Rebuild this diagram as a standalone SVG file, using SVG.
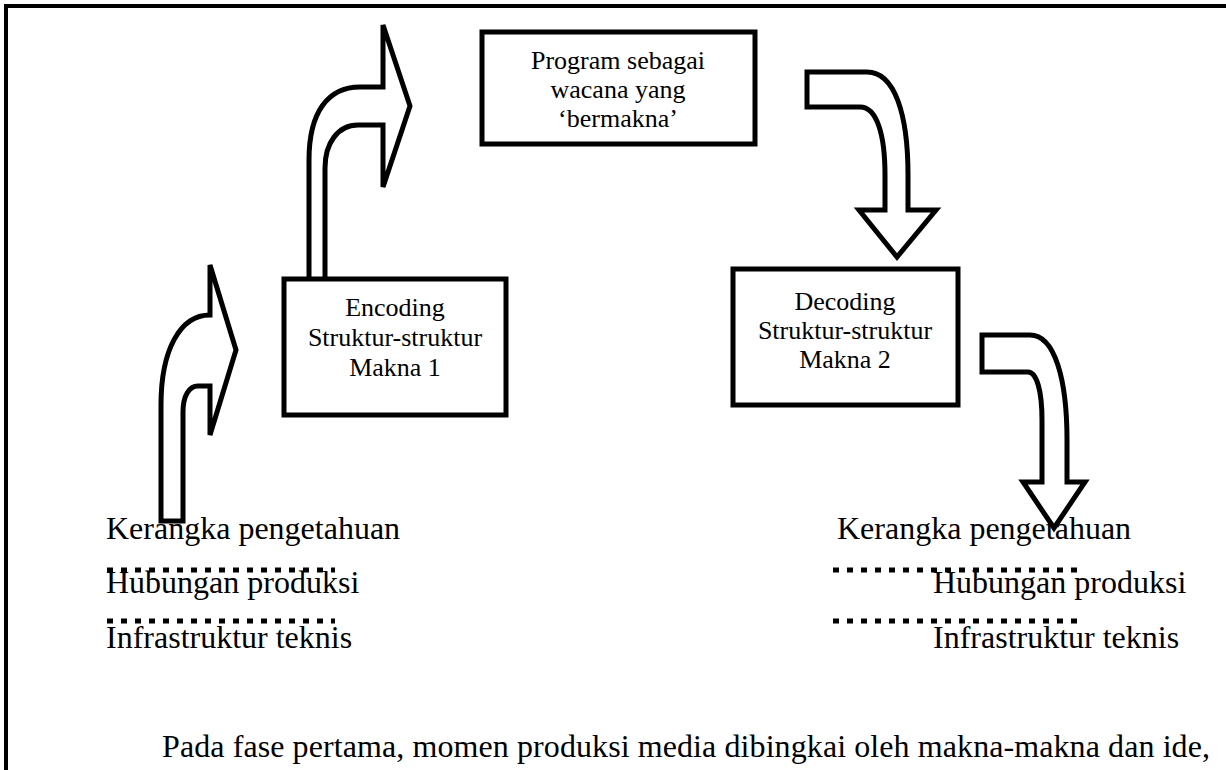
<svg xmlns="http://www.w3.org/2000/svg" width="1226" height="770" viewBox="0 0 1226 770">
<style>
.frame{fill:none;stroke:#000;stroke-width:4}
.box{fill:#fff;stroke:#000;stroke-width:5}
.arr{fill:#fff;stroke:#000;stroke-width:5;stroke-linejoin:miter}
.bt{font-family:"Liberation Serif","Times New Roman",serif;font-size:26px;fill:#000;text-anchor:middle}
.lt{font-family:"Liberation Serif","Times New Roman",serif;font-size:32px;fill:#000}
.dot{stroke:#000;stroke-width:5;stroke-dasharray:6 8;fill:none}
</style>
<rect width="1226" height="770" fill="#fff"/>
<path class="frame" d="M6,770 V6 H1226"/>
<g id="connectors">
<path class="arr" d="M161,521 L161,405 C161,350 180,315 210,315 L210,265 L236,350 L210,435 L210,386 L198,386 C189,386 183,396 183,412 L183,521 Z"/>
<path class="arr" d="M309,279 L309,160 C309,112 328,87 360,87 L383,87 L383,25 L410,106 L383,187 L383,125 L358,125 C338,125 325,143 325,168 L325,279"/>
<path class="arr" d="M807,72 L867,72 C895,72 908,115 908,175 L908,210 L936,210 L897,257 L859,210 L885,210 L885,175 C885,135 877,107 860,107 L807,107 Z"/>
<path class="arr" d="M982,335 L1030,335 C1055,335 1067,380 1067,440 L1067,482 L1085,482 L1054,528 L1023,482 L1042,482 L1042,420 C1042,392 1037,372 1028,372 L982,372 Z"/>
</g>
<g id="program">
<rect class="box" x="482" y="32" width="273" height="112"/>
<text class="bt" x="618" y="69">Program sebagai</text>
<text class="bt" x="618" y="98">wacana yang</text>
<text class="bt" x="618" y="127">‘bermakna’</text>
</g>
<g id="encoding">
<rect class="box" x="284" y="279" width="222" height="136"/>
<text class="bt" x="395" y="316">Encoding</text>
<text class="bt" x="395" y="346">Struktur-struktur</text>
<text class="bt" x="395" y="376">Makna 1</text>
</g>
<g id="decoding">
<rect class="box" x="733" y="269" width="225" height="136"/>
<text class="bt" x="845" y="310">Decoding</text>
<text class="bt" x="845" y="339">Struktur-struktur</text>
<text class="bt" x="845" y="368">Makna 2</text>
</g>
<g id="left-list">
<text class="lt" x="106" y="539">Kerangka pengetahuan</text>
<path class="dot" d="M107,570 H335"/>
<text class="lt" x="106" y="593">Hubungan produksi</text>
<path class="dot" d="M107,621 H335"/>
<text class="lt" x="106" y="648">Infrastruktur teknis</text>
</g>
<g id="right-list">
<text class="lt" x="837" y="539">Kerangka pengetahuan</text>
<path class="dot" d="M833,570 H1080"/>
<text class="lt" x="933" y="593">Hubungan produksi</text>
<path class="dot" d="M833,621 H1080"/>
<text class="lt" x="933" y="648">Infrastruktur teknis</text>
</g>
<text class="lt" x="162" y="757" textLength="1048" lengthAdjust="spacing">Pada fase pertama, momen produksi media dibingkai oleh makna-makna dan ide,</text>
</svg>
